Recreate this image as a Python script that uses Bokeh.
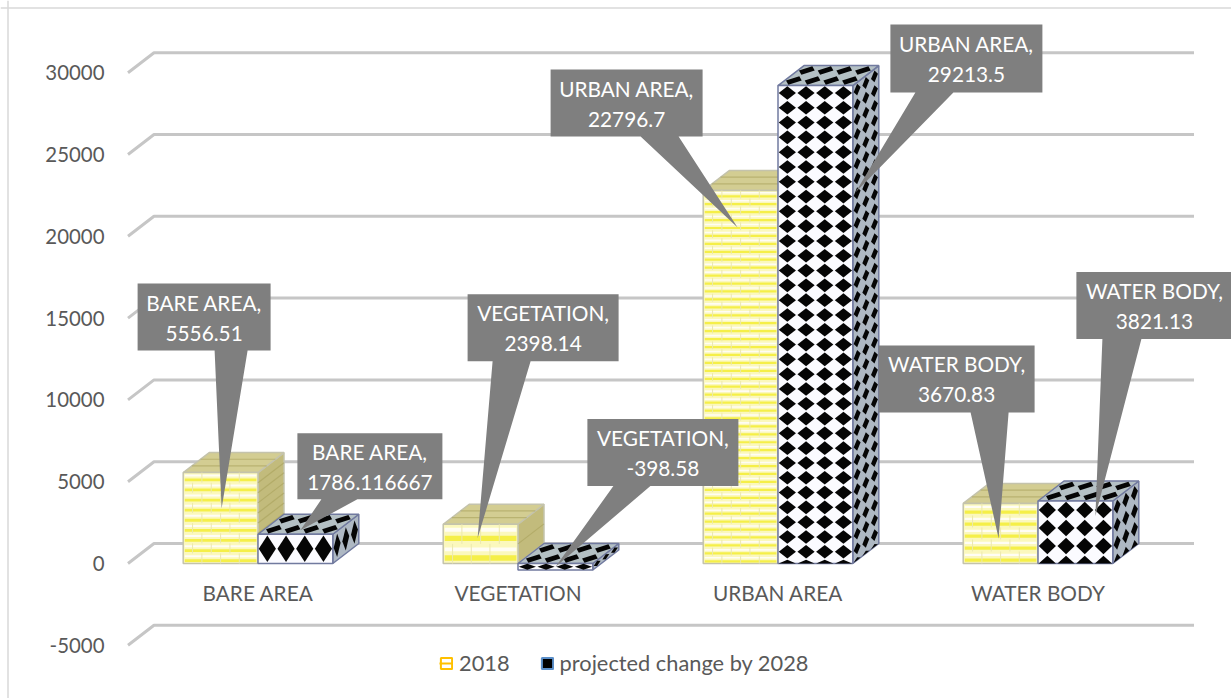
import math
from bokeh.plotting import figure
from bokeh.models import (ColumnDataSource, FixedTicker, Legend, LegendItem, Range1d, Span)
from bokeh.embed import file_html
from bokeh.resources import INLINE
from bokeh.core.properties import value

# ---- data ----
categories = ["BARE AREA", "VEGETATION", "URBAN AREA", "WATER BODY"]
series_2018 = [5556.51, 2398.14, 22796.7, 3670.83]
series_2028 = [1786.116667, -398.58, 29213.5, 3821.13]
series_names = ["2018", "projected change by 2028"]
y_ticks = [-5000, 0, 5000, 10000, 15000, 20000, 25000, 30000]

# ---- layout (pixels of the page) ----
FONT = "Lato"
PAGE_W, PAGE_H = 1231, 698
PX_PER_CAT = 260.0
PX_PER_VAL = 81.8 / 5000
CAT1_PX, ZERO_PX = 257.5, 563.0

def xd(px): return 1 + (px - CAT1_PX) / PX_PER_CAT
def yd(py): return (ZERO_PX - py) / PX_PER_VAL
def xp(x): return CAT1_PX + (x - 1) * PX_PER_CAT
def yp(y): return ZERO_PX - y * PX_PER_VAL

BAR_W = 74.8 / PX_PER_CAT
DX = 26 / PX_PER_CAT
DY = 20 / PX_PER_VAL

# pattern tile sizes per category (px)
BRICK_ROW = [10, 19.5, 8, 11.5]
DIAMOND_ROW = [29, 6.5, 14.8, 18]

# callouts relative to the top-front-centre of each bar:
# box left, top, right, bottom, pointer base l, r, tip x, y
CALLOUTS_2018 = [(-83, -189, 50, -122, -6, 27, 1, 36),
                 (-13, -230, 138, -163, 12, 50, -3, 14),
                 (-190, -121, -38, -54, -100, -62, -3, 37),
                 (-122, -158, 34, -91, -30, 8, -2, 35)]
CALLOUTS_2028 = [(2, -101, 147, -35, 26, 62, 5, -4),
                 (32, -151, 183, -84, 58, 95, 0, -3),
                 (75, -61, 227, 7, 100, 138, 40, 107),
                 (1, -229, 157, -162, 27, 66, 20, 15)]

p = figure(width=PAGE_W, height=PAGE_H, output_backend="svg", toolbar_location=None,
           x_range=Range1d(xd(0), xd(PAGE_W)), y_range=Range1d(yd(PAGE_H), yd(0)),
           min_border=0, min_border_left=0, min_border_right=0, min_border_top=0, min_border_bottom=0,
           styles={"position": "absolute", "left": "0px", "top": "0px"})
p.grid.visible = False
p.outline_line_color = None
p.background_fill_color = "white"

# outer chart frame (top and left only are visible in the picture)
p.add_layout(Span(location=yd(7.5), dimension="width", line_color="#d9d9d9", line_width=1.5))
p.add_layout(Span(location=xd(7.5), dimension="height", line_color="#d9d9d9", line_width=1.5))

# axes
p.yaxis.fixed_location = xd(118)
p.yaxis.ticker = FixedTicker(ticks=y_ticks)
p.yaxis.major_label_overrides = {t: str(t) for t in y_ticks}
p.xaxis.fixed_location = 0
p.xaxis.ticker = FixedTicker(ticks=list(range(1, len(categories) + 1)))
p.xaxis.major_label_overrides = {i + 1: c for i, c in enumerate(categories)}
for ax, standoff, size in ((p.yaxis[0], 8, "20.4px"), (p.xaxis[0], 10, "20.8px")):
    ax.axis_line_color = None
    ax.major_tick_line_color = None
    ax.minor_tick_line_color = None
    ax.major_label_standoff = standoff
    ax.major_label_text_font = FONT
    ax.major_label_text_font_size = size
    ax.major_label_text_color = "#595959"
    ax.major_label_text_font_style = "normal"

# 3-D gridlines
p.multi_line(xs=[[0.5, 0.5 + DX, 4.5 + DX] for _ in y_ticks],
             ys=[[t, t + DY, t + DY] for t in y_ticks],
             line_color="#c6c6c6", line_width=3)


def diamonds(ox, oy, ux, uy, vx, vy, ncols, nrows, phase=0.5, k=0.42):
    """Diamond tiles in a face given by origin and the two edge vectors.
    nrows may be fractional: the last row is then cut by the face's edge."""
    xs, ys = [], []
    hu, hv = k / ncols, k / nrows
    for r in range(math.ceil(nrows)):
        vc = (r + phase) / nrows
        if vc - hv >= 1.0:
            continue
        for c in range(ncols):
            uc = (c + 0.5) / ncols
            pts = [(uc - hu, vc), (uc, vc - hv), (uc + hu, vc), (uc, vc + hv)]
            pts = [(u, min(1, max(0, v))) for u, v in pts]
            xs.append([ox + u * ux + v * vx for u, v in pts])
            ys.append([oy + u * uy + v * vy for u, v in pts])
    return xs, ys


def faces(left, top, bottom):
    side_x = [left + BAR_W, left + BAR_W + DX, left + BAR_W + DX, left + BAR_W]
    side_y = [top, top + DY, bottom + DY, bottom]
    top_x = [left, left + DX, left + BAR_W + DX, left + BAR_W]
    top_y = [top, top + DY, top + DY, top]
    return side_x, side_y, top_x, top_y


# ---- 2018 bars: yellow brick ----
lefts1 = [i + 1 - BAR_W for i in range(len(categories))]
tops1 = [max(v, 0) for v in series_2018]
bots1 = [min(v, 0) for v in series_2018]
f = [faces(l, t, b) for l, t, b in zip(lefts1, tops1, bots1)]
edge1 = "#c4c3ac"
p.patches([a[0] for a in f], [a[1] for a in f], fill_color="#c2bb7c", line_color=edge1, line_width=1.5)
p.patches([a[2] for a in f], [a[3] for a in f], fill_color="#d3cd92", line_color=edge1, line_width=1.5)
p.quad(left=lefts1, right=[l + BAR_W for l in lefts1], top=tops1, bottom=bots1,
       fill_color="#fbf8bd", line_color=edge1, line_width=1.5)

hx, hy, hw, hc = [], [], [], []
jx, jy = [], []
dk_x, dk_y = [], []
for l, t, b, row in zip(lefts1, tops1, bots1, BRICK_ROW):
    h = (t - b) * PX_PER_VAL
    n = max(1, int(round(h / row)))
    dv = (t - b) / n
    for r in range(n):
        yy = t - r * dv
        hx.append([l + 0.006, l + BAR_W - 0.006])
        hy.append([yy - dv * 0.72, yy - dv * 0.72])
        hw.append(max(1.5, row * 0.28))
        hc.append("#f5ef48")
        hx.append([l + 0.006, l + BAR_W - 0.006])
        hy.append([yy - dv * 0.28, yy - dv * 0.28])
        hw.append(max(1.0, row * 0.2))
        hc.append("#fffdf4")
        off = 0.125 if r % 2 else 0.25
        for u in (off, off + 0.25, off + 0.5):
            jx.append([l + u * BAR_W, l + u * BAR_W])
            jy.append([yy, yy - dv])
    # darker courses on the receding faces
    for r in range(1, n):
        yy = t - r * dv
        dk_x.append([l + BAR_W, l + BAR_W + DX])
        dk_y.append([yy, yy + DY])
    for r in (1, 2):
        dk_x.append([l + r * DX / 3, l + BAR_W + r * DX / 3])
        dk_y.append([t + r * DY / 3, t + r * DY / 3])
p.multi_line(xs=dk_x, ys=dk_y, line_color="#a9a25c", line_width=1.2, line_alpha=0.6)
src = ColumnDataSource(dict(xs=hx, ys=hy, w=hw, c=hc))
p.multi_line(xs="xs", ys="ys", line_width="w", line_color="c", source=src)
p.multi_line(xs=jx, ys=jy, line_color="#ece8ae", line_width=1)

# ---- projected bars: black diamonds ----
lefts2 = [i + 1 for i in range(len(categories))]
tops2 = [max(v, 0) for v in series_2028]
bots2 = [min(v, 0) for v in series_2028]
f = [faces(l, t, b) for l, t, b in zip(lefts2, tops2, bots2)]
edge2 = "#717a9f"
p.patches([a[0] for a in f], [a[1] for a in f], fill_color="#aeb8c3", line_color=edge2, line_width=1.5)
p.patches([a[2] for a in f], [a[3] for a in f], fill_color="#b4c0c4", line_color=edge2, line_width=1.5)
p.quad(left=lefts2, right=[l + BAR_W for l in lefts2], top=tops2, bottom=bots2,
       fill_color="#fbfbff", line_color=edge2, line_width=1.5)

dx_all, dy_all = [], []
for l, t, b, row in zip(lefts2, tops2, bots2, DIAMOND_ROW):
    nrows = (t - b) * PX_PER_VAL / row
    H = b - t
    for spec, k in (((l, t, BAR_W, 0, 0, H, 4, nrows), 0.46),         # front
                    ((l + BAR_W, t, DX, DY, 0, H, 3, nrows), 0.4),    # side
                    ((l, t, BAR_W, 0, DX, DY, 4, 2), 0.42)):          # top
        xs, ys = diamonds(*spec, k=k)
        dx_all += xs
        dy_all += ys
p.patches(dx_all, dy_all, fill_color="#050505", line_color=None)

# ---- data callouts ----
cx, cy, tx, ty, tt = [], [], [], [], []
for vals, lefts, specs in ((series_2018, lefts1, CALLOUTS_2018), (series_2028, lefts2, CALLOUTS_2028)):
    for cat, v, l, s in zip(categories, vals, lefts, specs):
        ax_, ay_ = xp(l + BAR_W / 2), yp(v)
        L, T, R, B, b1, b2, tipx, tipy = s
        px_pts = [(L, T), (R, T), (R, B), (b2, B), (tipx, tipy), (b1, B), (L, B)]
        cx.append([xd(ax_ + a) for a, _ in px_pts])
        cy.append([yd(ay_ + c) for _, c in px_pts])
        tx.append(xd(ax_ + (L + R) / 2))
        ty.append(yd(ay_ + (T + B) / 2))
        tt.append(f"{cat},\n{v}")
p.patches(cx, cy, fill_color="#7f7f7f", line_color=None)
p.text(x=tx, y=ty, text=tt, text_color="white", text_font=value(FONT), text_font_size="20.8px",
       text_align="center", text_baseline="middle", text_line_height=1.2)

# ---- legend (swatches come from proxy marks parked outside the visible ranges) ----
far = xd(-500)
proxy = dict(x=[far, far], y=[0, 0], l=[far, far], r=[far, far], t=[0, 0], b=[0, 0])
r1a = p.quad(left="l", right="r", top="t", bottom="b", source=ColumnDataSource(proxy),
             fill_color="white", line_color="#ffc000", line_width=2)
r1b = p.line("x", "y", source=ColumnDataSource(proxy), line_color="#ffc000", line_width=2)
r2 = p.quad(left="l", right="r", top="t", bottom="b", source=ColumnDataSource(proxy),
            fill_color="black", line_color="#5b8fc9", line_width=2)
legend = Legend(items=[LegendItem(label=value(series_names[0]), renderers=[r1a, r1b]),
                       LegendItem(label=value(series_names[1]), renderers=[r2])],
                orientation="horizontal", location=(439, 22), border_line_color=None,
                background_fill_alpha=0, padding=0, margin=0, spacing=30,
                glyph_width=14, glyph_height=14, label_standoff=6,
                label_text_font=FONT, label_text_font_size="21.8px", label_text_color="#595959")
p.add_layout(legend, "center")

open("out.html", "w").write(file_html(p, INLINE))
